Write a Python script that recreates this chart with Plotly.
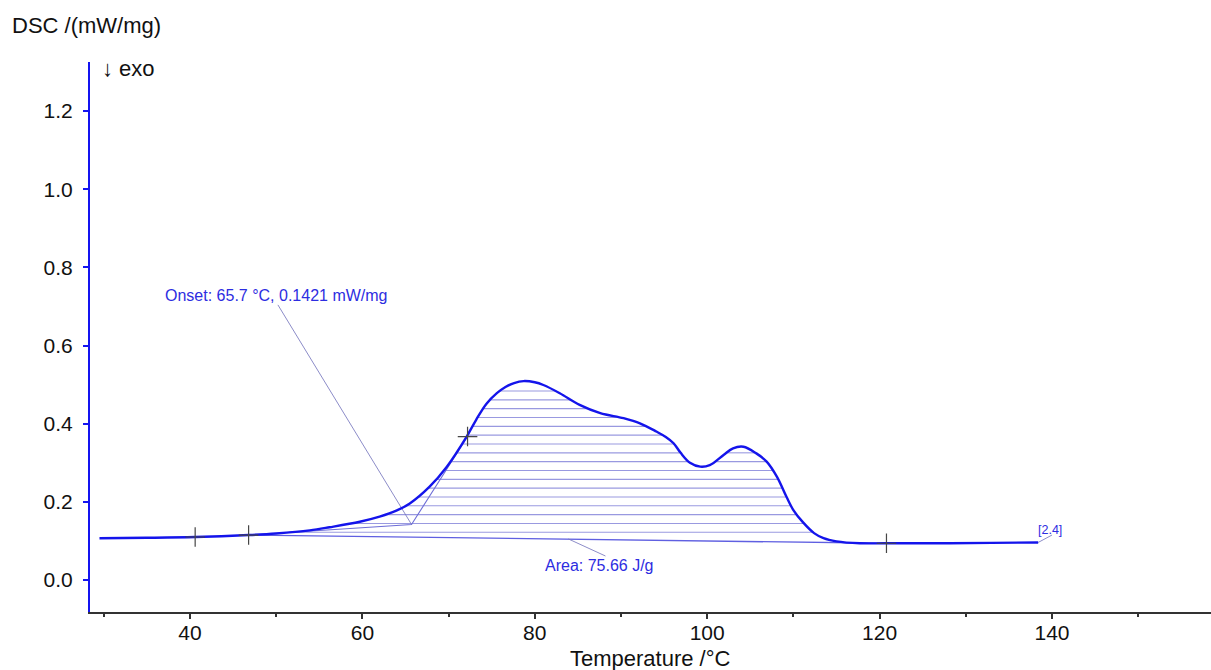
import numpy as np
import plotly.graph_objects as go

# ---- data ----
temp_c = [29.5, 35.0, 40.6, 46.8, 50.0, 53.9, 56.2, 59.7, 62.0, 64.0, 65.5, 67.8, 69.8,
          72.1, 73.2, 74.4, 75.6, 76.6, 77.6, 78.7, 80.0, 81.0, 82.9, 85.2, 87.6, 90.3,
          92.2, 94.1, 95.2, 96.1, 96.9, 98.0, 99.2, 100.3, 101.9, 103.0, 104.2, 105.7,
          106.9, 108.1, 109.2, 110.0, 111.1, 112.4, 113.5, 115.0, 117.7, 120.8, 127.0,
          133.0, 138.4]
dsc = [0.107, 0.108, 0.110, 0.115, 0.119, 0.127, 0.135, 0.149, 0.162, 0.178, 0.196, 0.239,
       0.290, 0.367, 0.410, 0.451, 0.478, 0.494, 0.504, 0.509, 0.506, 0.499, 0.478, 0.448,
       0.427, 0.414, 0.401, 0.380, 0.366, 0.350, 0.326, 0.300, 0.290, 0.294, 0.320, 0.337,
       0.341, 0.324, 0.303, 0.264, 0.213, 0.179, 0.148, 0.120, 0.107, 0.099, 0.094, 0.094,
       0.094, 0.095, 0.096]

marker_t = [40.6, 46.8, 72.2, 120.8]
marker_v = [0.110, 0.115, 0.367, 0.094]

baseline_t = [46.8, 120.8]
baseline_v = [0.115, 0.094]

onset_t, onset_v = 65.7, 0.1421
inflect_t, inflect_v = 72.2, 0.367

onset_label = "Onset: 65.7 °C, 0.1421 mW/mg"
area_label = "Area: 75.66 J/g"
curve_label = "[2.4]"

x_ticks = [40, 60, 80, 100, 120, 140]
y_ticks = [0.0, 0.2, 0.4, 0.6, 0.8, 1.0, 1.2]

# ---- styles ----
BLUE = "rgb(20,20,235)"
TXT_BLUE = "rgb(45,45,225)"
LEADER = "rgba(120,120,190,0.85)"
HATCH = "rgba(90,90,205,0.62)"
FONT = "Liberation Sans, Arial, sans-serif"

fig = go.Figure()

# hatch lines (horizontal) between integration baseline and curve
xs = np.linspace(baseline_t[0], baseline_t[1], 4000)
cs = np.interp(xs, temp_c, dsc)
bs = np.interp(xs, baseline_t, baseline_v)
hx, hy = [], []
for h in np.arange(0.122, 0.50, 0.0226):
    m = (cs >= h) & (bs <= h)
    idx = np.where(m)[0]
    if idx.size == 0:
        continue
    splits = np.where(np.diff(idx) > 1)[0]
    starts = np.concatenate(([idx[0]], idx[splits + 1]))
    ends = np.concatenate((idx[splits], [idx[-1]]))
    for s, e in zip(starts, ends):
        hx += [xs[s], xs[e], None]
        hy += [h, h, None]
fig.add_trace(go.Scatter(x=hx, y=hy, mode="lines", line=dict(color=HATCH, width=1.1),
                         hoverinfo="skip", showlegend=False))

# integration baseline
fig.add_trace(go.Scatter(x=baseline_t, y=baseline_v, mode="lines",
                         line=dict(color="rgb(95,95,225)", width=1.4), showlegend=False))
# extrapolated baseline to onset and tangent
fig.add_trace(go.Scatter(x=[baseline_t[0], onset_t, inflect_t], y=[baseline_v[0], onset_v, inflect_v],
                         mode="lines", line=dict(color="rgb(110,110,215)", width=1.1), showlegend=False))

# leader lines
fig.add_trace(go.Scatter(x=[50.2, onset_t], y=[0.704, onset_v], mode="lines",
                         line=dict(color=LEADER, width=1), showlegend=False))
fig.add_trace(go.Scatter(x=[83.9, 88.2], y=[0.105, 0.0614], mode="lines",
                         line=dict(color=LEADER, width=1), showlegend=False))
fig.add_trace(go.Scatter(x=[temp_c[-1], 140.0], y=[dsc[-1], 0.115], mode="lines",
                         line=dict(color=LEADER, width=1), showlegend=False))

# DSC curve
fig.add_trace(go.Scatter(x=temp_c, y=dsc, mode="lines",
                         line=dict(color=BLUE, width=2.4, shape="spline", smoothing=1.0),
                         showlegend=False))

# markers
fig.add_trace(go.Scatter(x=marker_t, y=marker_v, mode="markers",
                         marker=dict(symbol="cross-thin", size=14, line=dict(color="rgb(70,70,70)", width=1.2)),
                         showlegend=False))

ann = [
    dict(x=36.87, y=0.729, text=onset_label, xanchor="left", yanchor="middle",
         font=dict(size=16, color=TXT_BLUE, family=FONT)),
    dict(x=87.5, y=0.038, text=area_label, xanchor="center", yanchor="middle",
         font=dict(size=16, color=TXT_BLUE, family=FONT)),
    dict(x=139.8, y=0.128, text=curve_label, xanchor="center", yanchor="middle",
         font=dict(size=12.5, color=TXT_BLUE, family=FONT)),
    dict(xref="paper", yref="paper", x=0, y=1, xshift=-80, yshift=37, text="DSC /(mW/mg)",
         xanchor="left", yanchor="middle", font=dict(size=22, color="#111", family=FONT)),
    dict(xref="paper", yref="paper", x=0, y=1, xshift=10, yshift=-6, text="↓ exo",
         xanchor="left", yanchor="middle", font=dict(size=22, color="#111", family=FONT)),
    dict(xref="paper", yref="paper", x=0.5, y=0, yshift=-46, text="Temperature /°C",
         xanchor="center", yanchor="middle", font=dict(size=22, color="#111", family=FONT)),
]
for a in ann:
    a["showarrow"] = False
fig.update_layout(annotations=ann)

fig.update_layout(
    width=1211, height=670,
    margin=dict(l=90, r=0, t=62, b=58),
    paper_bgcolor="white", plot_bgcolor="white",
    font=dict(family=FONT, size=21, color="#111"),
    xaxis=dict(range=[28.4, 158.45], tickvals=x_ticks, showgrid=False, zeroline=False,
               showline=True, linecolor="rgb(50,50,50)", linewidth=2,
               ticks="outside", ticklen=5, tickwidth=2, tickcolor="rgb(50,50,50)",
               tickfont=dict(size=21, color="#111"), ticklabelstandoff=-4,
               minor=dict(dtick=10, tick0=30, ticks="outside", ticklen=3, tickwidth=2,
                          tickcolor="rgb(50,50,50)")),
    yaxis=dict(range=[-0.0819, 1.3255], tickvals=y_ticks, tickformat=".1f", showgrid=False,
               zeroline=False, showline=True, linecolor="rgb(20,20,240)", linewidth=2,
               ticks="outside", ticklen=5, tickwidth=2, tickcolor="rgb(20,20,240)",
               tickfont=dict(size=21, color="#111"), ticklabelstandoff=6),
)

fig.write_html("out.html")
